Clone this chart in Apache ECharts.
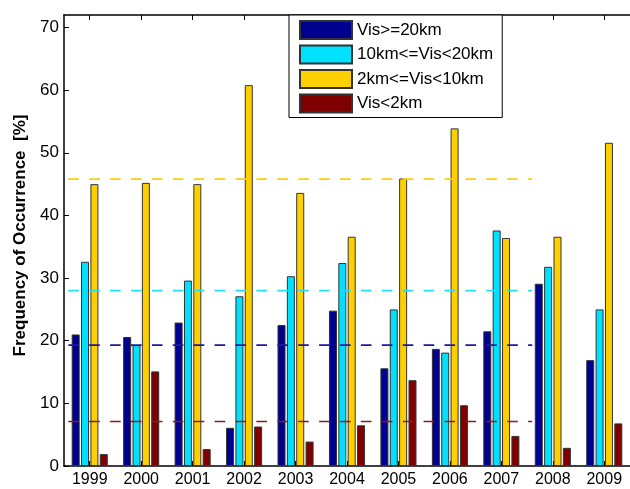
<!DOCTYPE html>
<html>
<head>
<meta charset="utf-8">
<script src="https://cdn.jsdelivr.net/npm/echarts@6/dist/echarts.min.js"></script>
<style>html,body{margin:0;padding:0;background:#fff;}#c{width:630px;height:489px;}</style>
</head>
<body>
<div id="c"></div>
<script>
const years = ['1999','2000','2001','2002','2003','2004','2005','2006','2007','2008','2009'];
const seriesNames = ['Vis>=20km', '10km<=Vis<20km', '2km<=Vis<10km', 'Vis<2km'];
const visHigh = [21.0, 20.6, 22.9, 6.1, 22.5, 24.8, 15.6, 18.7, 21.5, 29.1, 16.9];
const visMidHigh = [32.6, 19.3, 29.6, 27.1, 30.3, 32.4, 25.0, 18.1, 37.6, 31.8, 25.0];
const visMidLow = [45.0, 45.2, 45.0, 60.8, 43.6, 36.6, 45.9, 53.9, 36.4, 36.6, 51.6];
const visLow = [1.9, 15.1, 2.7, 6.3, 3.9, 6.5, 13.7, 9.7, 4.8, 2.9, 6.8];
const meanValues = [19.3, 28.0, 45.8, 7.1];
const meanLineSpan = [0.5, 9.6];
const yTicks = [0, 10, 20, 30, 40, 50, 60, 70];

const barColors = ['#000090', '#00E0FF', '#FFD000', '#800000'];
const lineColors = ['#1A1AA0', '#22DDF5', '#FFD000', '#8B1A1A'];
const FONT = "'Liberation Sans', Arial, sans-serif";

const barData = [visHigh, visMidHigh, visMidLow, visLow];

const series = [];
barData.forEach((d, i) => {
  series.push({
    name: seriesNames[i],
    type: 'bar',
    xAxisIndex: 0,
    yAxisIndex: 0,
    data: d,
    barWidth: 8,
    barGap: '17%',
    itemStyle: { color: barColors[i], borderColor: '#333', borderWidth: 1 },
    emphasis: { disabled: true },
    z: 2
  });
});
meanValues.forEach((m, i) => {
  series.push({
    name: 'mean' + i,
    type: 'line',
    xAxisIndex: 2,
    yAxisIndex: 0,
    data: [[meanLineSpan[0], m], [meanLineSpan[1], m]],
    symbol: 'none',
    silent: true,
    lineStyle: { color: lineColors[i], width: 1.6, type: [10.6, 10.3], dashOffset: 16.6 },
    z: 3
  });
});

const chart = echarts.init(document.getElementById('c'), null, { renderer: 'canvas' });
chart.setOption({
  animation: false,
  backgroundColor: '#fff',
  textStyle: { fontFamily: FONT },
  grid: { left: 64, top: 15, width: 574, height: 451, containLabel: false },
  legend: {
    data: seriesNames,
    orient: 'vertical',
    left: 289,
    top: 15,
    itemWidth: 52,
    itemHeight: 18,
    itemGap: 4.5,
    padding: [5, 9, 4, 10],
    backgroundColor: '#fff',
    borderColor: '#000',
    borderWidth: 1,
    borderRadius: 0,
    icon: 'rect',
    selectedMode: false,
    textStyle: { fontSize: 17, color: '#000', fontFamily: FONT },
    z: 10
  },
  xAxis: [
    {
      type: 'category',
      data: years,
      position: 'bottom',
      boundaryGap: true,
      axisLine: { show: true, lineStyle: { color: '#000', width: 1.5 } },
      axisTick: { show: true, inside: true, alignWithLabel: true, length: 5, lineStyle: { color: '#000' } },
      axisLabel: { fontSize: 16, color: '#000', margin: 6, fontFamily: FONT, interval: 0 },
      splitLine: { show: false }
    },
    {
      type: 'category',
      data: years,
      position: 'top',
      boundaryGap: true,
      axisLine: { show: true, lineStyle: { color: '#000', width: 1.5 } },
      axisTick: { show: true, inside: true, alignWithLabel: true, length: 5, lineStyle: { color: '#000' } },
      axisLabel: { show: false },
      splitLine: { show: false }
    },
    {
      type: 'value',
      min: 0.5,
      max: 11.5,
      show: false,
      splitLine: { show: false }
    }
  ],
  yAxis: [
    {
      type: 'value',
      min: 0,
      max: 72,
      interval: 10,
      name: 'Frequency of Occurrence  [%]',
      nameLocation: 'middle',
      nameGap: 29,
      nameTextStyle: { fontSize: 17, fontWeight: 'bold', color: '#000', fontFamily: FONT, padding: [0, 0, 0, 10] },
      axisLine: { show: true, lineStyle: { color: '#000', width: 1.5 } },
      axisTick: { show: true, inside: true, length: 5, lineStyle: { color: '#000' } },
      axisLabel: {
        fontSize: 17, color: '#000', margin: 5, fontFamily: FONT, showMaxLabel: false,
        formatter: v => (yTicks.indexOf(v) >= 0 ? String(v) : '')
      },
      splitLine: { show: false }
    }
  ],
  series: series
});
</script>
</body>
</html>
